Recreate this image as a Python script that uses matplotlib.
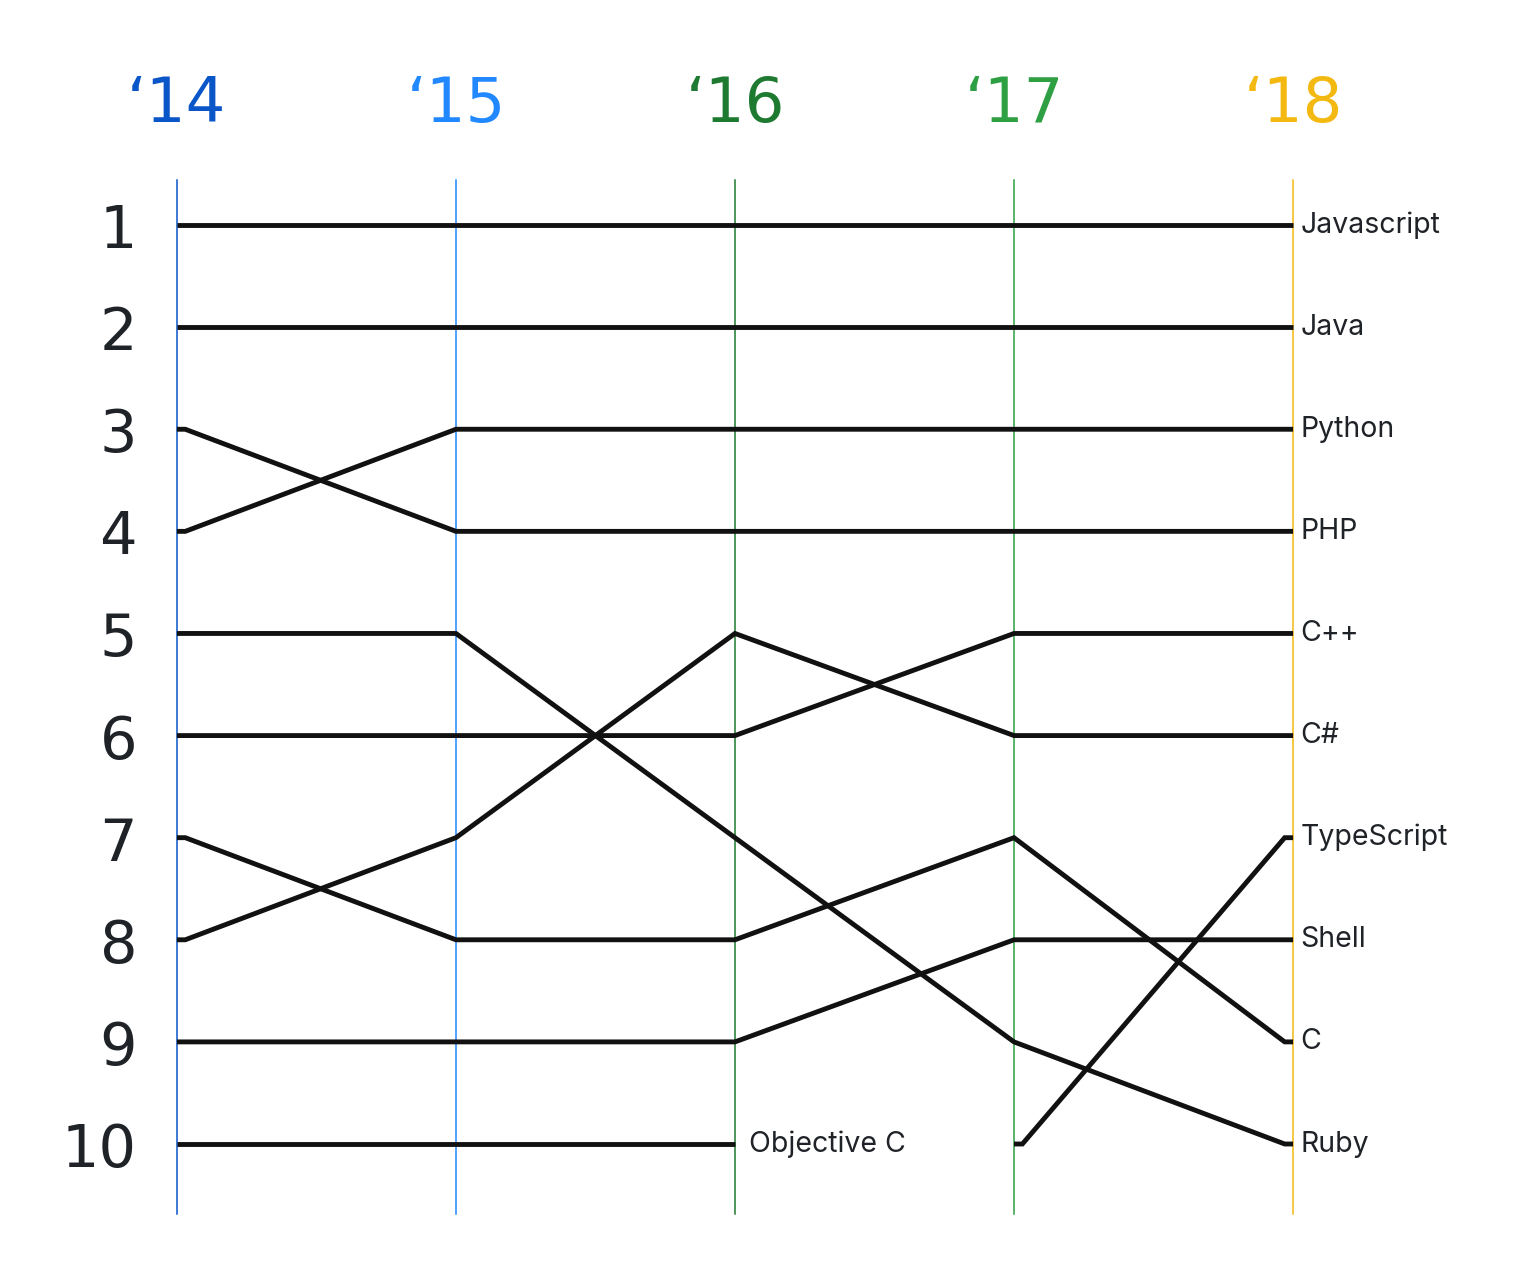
import matplotlib
matplotlib.use("Agg")
import matplotlib.pyplot as plt
import numpy as np

plt.rcParams['font.family'] = ['Inter', 'DejaVu Sans']

years = ["\u201814", "\u201815", "\u201816", "\u201817", "\u201818"]
year_colors = ["#0a55c8", "#2188ff", "#1e7a30", "#2ea043", "#f4b911"]
ranks_axis = [1, 2, 3, 4, 5, 6, 7, 8, 9, 10]

languages = ["Javascript", "Java", "Python", "PHP", "C++", "C#", "TypeScript", "Shell", "C", "Ruby", "Objective C"]
rank_js = [1, 1, 1, 1, 1]
rank_java = [2, 2, 2, 2, 2]
rank_python = [4, 3, 3, 3, 3]
rank_php = [3, 4, 4, 4, 4]
rank_cpp = [6, 6, 6, 5, 5]
rank_cs = [8, 7, 5, 6, 6]
rank_ts = [None, None, None, 10, 7]
rank_shell = [9, 9, 9, 8, 8]
rank_c = [7, 8, 8, 7, 9]
rank_ruby = [5, 5, 7, 9, 10]
rank_objc = [10, 10, 10, None, None]
series = [rank_js, rank_java, rank_python, rank_php, rank_cpp, rank_cs,
          rank_ts, rank_shell, rank_c, rank_ruby, rank_objc]

W, H = 1516, 1270
fig = plt.figure(figsize=(W / 100, H / 100), dpi=100)
ax = fig.add_axes([0, 0, 1, 1])
ax.set_xlim(-0.634, 4.799)
ax.set_ylim(11.234, -1.204)
ax.axis("off")

# vertical year lines
for i, c in enumerate(year_colors):
    ax.plot([i, i], [0.56, 10.69], color=c, lw=1.1, zorder=1)
    ax.text(i, -0.01, years[i], color=c, fontsize=45, ha="center", va="baseline",
            family="DejaVu Sans")

for r in ranks_axis:
    ax.text(-0.143, r + 0.225, str(r), fontsize=42.5, color="#1f2328", ha="right",
            va="baseline", family="DejaVu Sans")

stub = 0.03
last = len(years) - 1
for name, s in zip(languages, series):
    xs = [i for i, v in enumerate(s) if v is not None]
    ys = [s[i] for i in xs]
    px = [xs[0]] + [x for x in xs] + [xs[-1]]
    px[1] = xs[0] + stub
    px[-2] = xs[-1] - stub
    py = [ys[0]] + ys + [ys[-1]]
    ax.plot(px, py, color="#111111", lw=3.5, solid_joinstyle="miter",
            solid_capstyle="butt", zorder=3)
    off = 0.026 if xs[-1] == last else 0.05
    ax.text(xs[-1] + off, ys[-1], name, fontsize=20.5, color="#1f2328",
            ha="left", va="center", zorder=4)

fig.savefig("out.png", dpi=100, facecolor="white")
